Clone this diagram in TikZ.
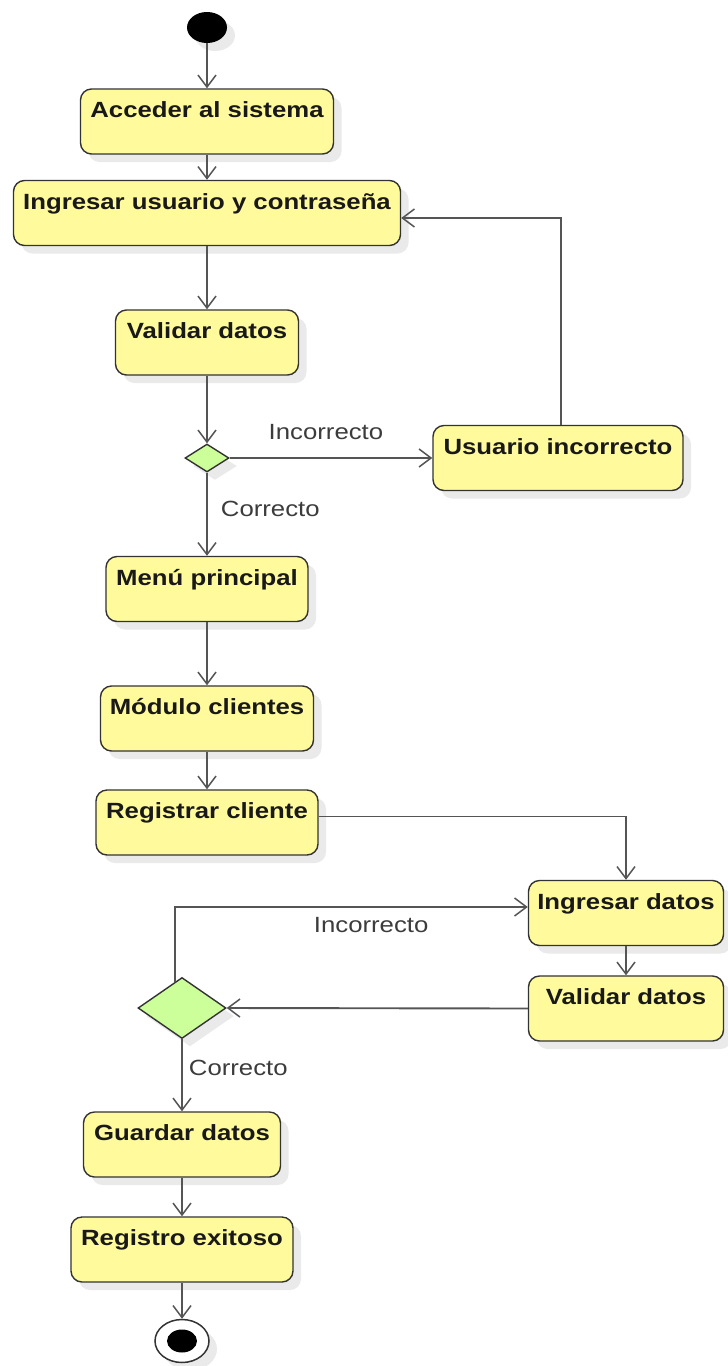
\documentclass[tikz,border=0pt]{standalone}
\usepackage{fontspec}
\setmainfont{Liberation Sans}[FakeStretch=1.17]
\usetikzlibrary{arrows.meta,shapes.geometric,shadows}
\definecolor{actfill}{HTML}{FFFA9C}
\definecolor{decfill}{HTML}{CCFF99}
\definecolor{edgecol}{HTML}{555555}
\definecolor{bordercol}{HTML}{333333}
\definecolor{lblcol}{HTML}{3C3C3C}
\definecolor{shadowcol}{HTML}{EAEAEA}
\begin{document}
\begin{tikzpicture}[x=1pt,y=-1pt,
  shd/.style={drop shadow={shadow xshift=8pt,shadow yshift=-8pt,fill=shadowcol,opacity=1}},
  act/.style={shd,draw=bordercol,line width=1.4pt,rounded corners=11pt,fill=actfill,
    font=\fontsize{22}{26}\selectfont\bfseries,text=black!90,
    inner xsep=0pt,inner ysep=0pt,text height=28.5pt,text depth=36.5pt,minimum width=#1},
  decision/.style n args={2}{shd,diamond,draw=bordercol,line width=1.4pt,fill=decfill,
    inner sep=0pt,minimum width=#1,minimum height=#2},
  flow/.style={draw=edgecol,line width=1.9pt,
    -{Straight Barb[length=12pt,width=18pt,line width=1.5pt]}},
  lbl/.style={font=\fontsize{22}{26}\selectfont,text=lblcol,inner sep=0pt}]

\useasboundingbox[fill=white] (0,0) rectangle (728,1366);

% initial node
\node[shd,ellipse,fill=black,inner sep=0pt,minimum width=40pt,minimum height=31pt] (start) at (207,27.5) {};

% login part
\node[act=253pt] (acc) at (207,121.5) {Acceder al sistema};
\node[act=387pt] (ing) at (207,213) {Ingresar usuario y contraseña};
\node[act=183pt] (val) at (207,342.5) {Validar datos};
\node[decision={44pt}{28pt}] (d1) at (207,458) {};
\node[act=250pt] (ui) at (558,458) {Usuario incorrecto};
\node[act=202pt] (menu) at (207,589) {Menú principal};
\node[act=213pt] (mod) at (207,718.5) {Módulo clientes};
\node[act=222pt] (reg) at (207,822.5) {Registrar cliente};

% client registration part
\node[act=195pt] (ingd) at (626,913) {Ingresar datos};
\node[act=195pt] (vald) at (626,1008.5) {Validar datos};
\node[decision={88pt}{61pt}] (d2) at (182,1008) {};
\node[act=197pt] (gd) at (182,1144.5) {Guardar datos};
\node[act=222pt] (re) at (182,1249.5) {Registro exitoso};

% final node
\node[shd,ellipse,draw=bordercol,line width=1.5pt,fill=white,inner sep=0pt,
  minimum width=54pt,minimum height=43pt] (fin) at (182,1341) {};
\node[ellipse,fill=black,inner sep=0pt,minimum width=30pt,minimum height=23pt] (findot) at (fin.center) {};

% control flow
\draw[flow] (start) -- (acc);
\draw[flow] (acc) -- (ing);
\draw[flow] (ing) -- (val);
\draw[flow] (val) -- (d1);
\draw[flow] (d1.east) -- node[lbl,pos=0.475,anchor=base,yshift=19pt] (l1) {Incorrecto} (ui.west);
\draw[flow] ([xshift=3pt]ui.north) |- ([yshift=-5pt]ing.east);
\draw[flow] (d1.south) -- node[lbl,pos=0.53,anchor=base west,xshift=13pt] (l2) {Correcto} (menu.north);
\draw[flow] (menu) -- (mod);
\draw[flow] (mod) -- (reg);
\draw[flow] ([yshift=6pt]reg.east) -| (ingd.north);
\draw[flow] (ingd) -- (vald);
\draw[flow] (vald.west) -- (d2.east);
\draw[flow] (d2.105) |- node[lbl,pos=0.778,anchor=base,yshift=-25pt] (l3) {Incorrecto} ([yshift=6pt]ingd.west);
\draw[flow] (d2.south) -- node[lbl,pos=0.5,anchor=base west,xshift=6pt] (l4) {Correcto} (gd.north);
\draw[flow] (gd) -- (re);
\draw[flow] (re) -- (fin);
\end{tikzpicture}
\end{document}
